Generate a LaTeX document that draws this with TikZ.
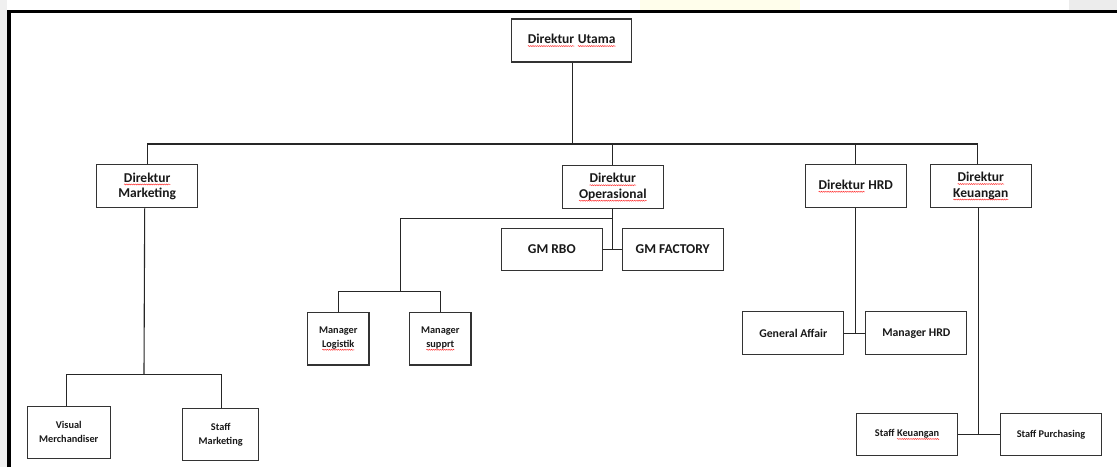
\documentclass[tikz,border=0pt]{standalone}
\usepackage{fontspec}
\setmainfont{Carlito}
\usetikzlibrary{decorations.pathmorphing}
\newcommand{\sq}[1]{\begin{tikzpicture}[baseline=(w.base)]\node[rectangle,inner sep=0pt,outer sep=0pt,draw=none,fill=none,minimum width=0pt,minimum height=0pt,anchor=center](w){#1};\draw[red!80!white,line width=0.5pt,decorate,decoration={snake,amplitude=0.5pt,segment length=2.2pt}]([yshift=-2.4pt]w.base west)--([yshift=-2.4pt]w.base east);\end{tikzpicture}}
\tikzset{
  box/.style={draw=black!80, line width=1.1pt, fill=white, rectangle, inner sep=1pt, align=center, text=black!90},
  bigf/.style={font=\fontsize{13.5}{15.5}\selectfont\bfseries},
  midf/.style={font=\fontsize{11.8}{14}\selectfont\bfseries},
  smallf/.style={font=\fontsize{10.3}{14}\selectfont\bfseries},
  conn/.style={draw=black!85, line width=1.1pt},
}
\begin{document}
\begin{tikzpicture}[x=1pt,y=-1pt]
\useasboundingbox (0,0) rectangle (1117,467);
\fill[white] (0,0) rectangle (1117,467);
\fill[gray!12] (0,0) rectangle (7,467);
\fill[gray!15] (1069,0) rectangle (1117,9.5);
\fill[yellow!8] (640,0) rectangle (800,9.5);
\draw[line width=3.6pt, line join=miter] (8.8,467) -- (8.8,11.4) -- (1117,11.4);

% directors
\node[box,bigf,minimum width=120pt,minimum height=43pt] (du) at (571.7,40.5) {\sq{Direktur} \sq{Utama}};
\node[box,bigf,minimum width=101pt,minimum height=43pt] (dm) at (147.2,186.2) {\sq{Direktur}\\Marketing};
\node[box,bigf,minimum width=101pt,minimum height=43pt] (do) at (612.8,187.4) {\sq{Direktur}\\\sq{Operasional}};
\node[box,bigf,minimum width=101pt,minimum height=43pt] (dh) at (855.6,186.2) {\sq{Direktur} HRD};
\node[box,bigf,minimum width=101pt,minimum height=43pt] (dk) at (980.8,186.2) {\sq{Direktur}\\\sq{Keuangan}};

% operasional
\node[box,bigf,minimum width=101pt,minimum height=42.4pt] (gmr) at (551.8,249.5) {GM RBO};
\node[box,bigf,minimum width=101pt,minimum height=42.4pt] (gmf) at (672.7,249.5) {GM FACTORY};
\node[box,smallf,minimum width=61.3pt,minimum height=52.7pt] (ml) at (338.3,338.6) {Manager\\\sq{Logistik}};
\node[box,smallf,minimum width=61.3pt,minimum height=52.7pt] (ms) at (440.3,338.6) {Manager\\\sq{supprt}};

% marketing
\node[box,smallf,minimum width=83pt,minimum height=52.7pt] (vm) at (68.8,432.4) {Visual\\Merchandiser};
\node[box,smallf,minimum width=76pt,minimum height=52.4pt] (sm) at (220.7,434.5) {Staff\\Marketing};

% hrd
\node[box,midf,minimum width=101pt,minimum height=43pt] (ga) at (793.3,333.2) {General Affair};
\node[box,midf,minimum width=101pt,minimum height=43pt] (mh) at (916.3,333.2) {Manager HRD};

% keuangan
\node[box,smallf,minimum width=101pt,minimum height=41.6pt] (sk) at (907.2,434.5) {Staff \sq{Keuangan}};
\node[box,smallf,minimum width=101.4pt,minimum height=41.6pt] (sp) at (1051,434.5) {Staff Purchasing};

% connectors
\coordinate (b1) at (147,144);
\coordinate (b2) at (977.7,144);
\draw[conn] ([xshift=1pt]du.south) -- ([xshift=1pt]du.south |- b1);
\draw[conn] (dm.north) -- (dm.north |- b1) -- (b2) -- (b2 |- dk.north);
\draw[conn] (do.north) -- (do.north |- b1);
\draw[conn] (dh.north) -- (dh.north |- b1);

\coordinate (mb) at (144,374.5);
\draw[conn] ([xshift=-2.5pt]dm.south) -- (mb);
\draw[conn] ([xshift=-2.5pt]vm.north) -- ([xshift=-2.5pt]vm.north |- mb) -- ([xshift=0.6pt]sm.north |- mb) -- ([xshift=0.6pt]sm.north);

\coordinate (ob) at (400.7,218.7);
\coordinate (lb) at (400.7,291.3);
\draw[conn] (do.south) -- (do.south |- gmr.east);
\draw[conn] (gmr.east) -- (gmf.west);
\draw[conn] (do.south |- ob) -- (ob) -- (lb);
\draw[conn] (ml.north) -- (ml.north |- lb) -- (ms.north |- lb) -- (ms.north);

\draw[conn] (dh.south) -- (dh.south |- ga.east);
\draw[conn] (ga.east) -- (mh.west);

\draw[conn] ([xshift=-2.1pt]dk.south) -- ([xshift=-2.1pt]dk.south |- sk.east);
\draw[conn] (sk.east) -- (sp.west);
\end{tikzpicture}
\end{document}
